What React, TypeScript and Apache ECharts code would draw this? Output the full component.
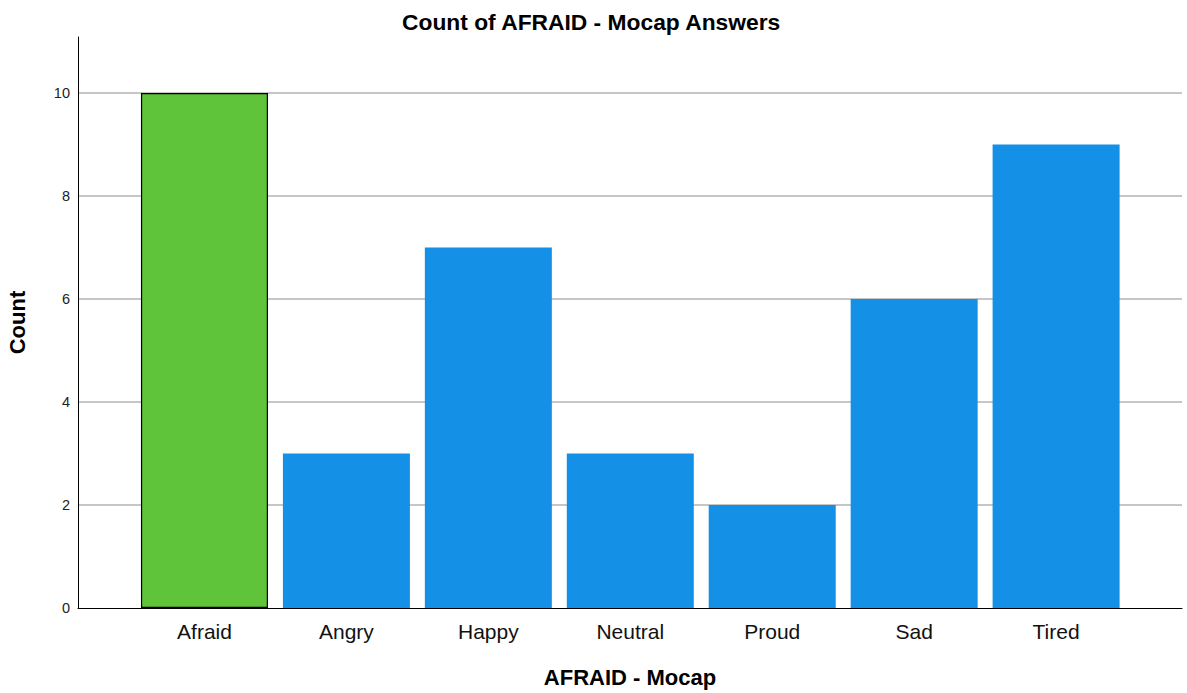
import React, { useEffect, useRef } from "react";
import * as echarts from "echarts";

const categories = ["Afraid", "Angry", "Happy", "Neutral", "Proud", "Sad", "Tired"];
const counts = [10, 3, 7, 3, 2, 6, 9];
const yTicks = [0, 2, 4, 6, 8, 10];
const highlight = "Afraid";

export default function App() {
  const ref = useRef<HTMLDivElement>(null);
  useEffect(() => {
    const chart = echarts.init(ref.current!, null, { renderer: "svg" });
    const font = "'Liberation Sans', Arial, sans-serif";
    chart.setOption({
      animation: false,
      textStyle: { fontFamily: font },
      title: {
        text: "Count of AFRAID - Mocap Answers",
        left: 397,
        top: 5,
        textStyle: { fontSize: 22.8, fontWeight: "bold", color: "#000", fontFamily: font },
      },
      grid: { left: 78, right: 5, top: 37, bottom: 85, containLabel: false, outerBoundsMode: "none" },
      xAxis: {
        type: "value",
        min: -0.891,
        max: 6.887,
        name: "AFRAID - Mocap",
        nameLocation: "middle",
        nameGap: 58,
        nameTextStyle: { fontSize: 22, fontWeight: "bold", color: "#000", fontFamily: font },
        axisLine: { show: true, onZero: false, lineStyle: { color: "#000", width: 1 } },
        axisTick: { show: false },
        splitLine: { show: false },
        axisLabel: {
          customValues: categories.map((_, i) => i),
          formatter: (v: number) => categories[Math.round(v)] ?? "",
          fontSize: 21,
          color: "#111",
          margin: 13,
          fontFamily: font,
        },
      },
      yAxis: {
        type: "value",
        min: 0,
        max: 11.087,
        name: "Count",
        nameLocation: "middle",
        nameGap: 50,
        nameRotate: 90,
        nameTextStyle: { fontSize: 22, fontWeight: "bold", color: "#000", fontFamily: font },
        axisLine: { show: true, onZero: false, lineStyle: { color: "#000", width: 1 } },
        axisTick: { show: false },
        axisLabel: {
          customValues: yTicks,
          fontSize: 14.5,
          color: "#222",
          margin: 8,
          fontFamily: font,
        },
        splitLine: { show: false },
      },
      series: [
        {
          type: "bar",
          barWidth: 127,
          data: categories.map((c, i) => ({
            value: [i, counts[i]],
            itemStyle:
              c === highlight
                ? { color: "#5fc43a", borderColor: "#000", borderWidth: 1.2 }
                : { color: "#1490e6" },
          })),
          markLine: {
            silent: true,
            symbol: "none",
            label: { show: false },
            lineStyle: { color: "#b3b3b3", type: "solid", width: 1.5 },
            data: yTicks.filter((t) => t > 0).map((t) => ({ yAxis: t })),
            z: 0,
          },
          z: 2,
        },
      ],
    });
    return () => chart.dispose();
  }, []);
  return (
    <div
      ref={ref}
      style={{ position: "fixed", left: 0, top: 0, width: 1187, height: 693, background: "#fff" }}
    />
  );
}
